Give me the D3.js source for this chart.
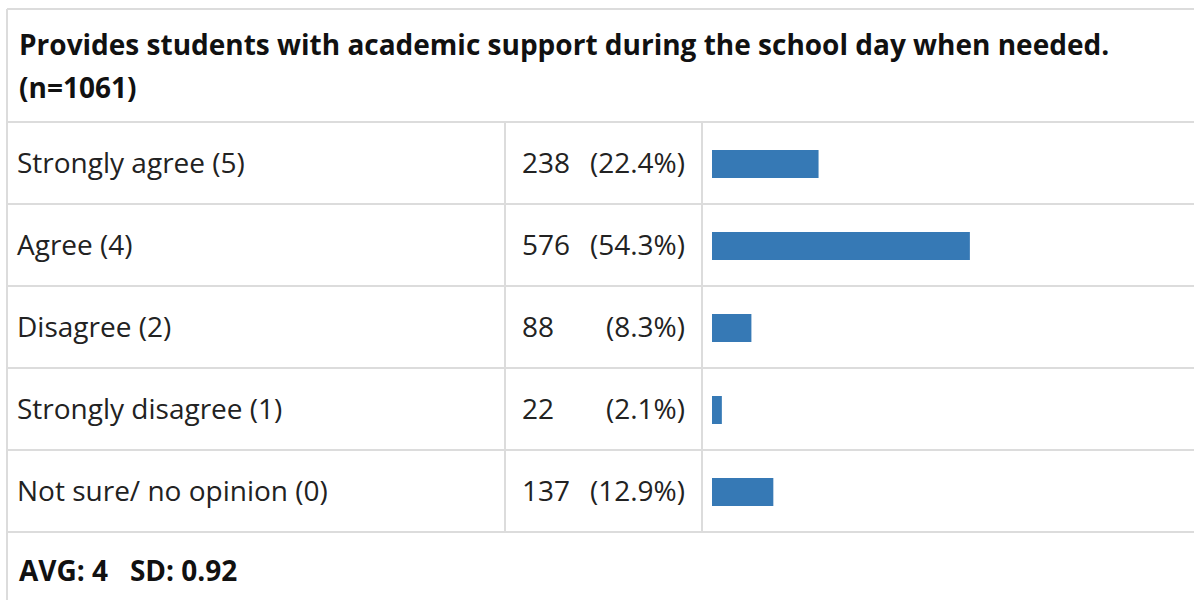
<!DOCTYPE html>
<html>
<head>
<meta charset="utf-8">
<script src="https://cdn.jsdelivr.net/npm/d3@7"></script>
<style>
  body { margin: 0; background: #fff; }
  svg { display: block; font-family: "Open Sans", sans-serif; }
</style>
</head>
<body>
<svg width="1194" height="600"></svg>
<script>
// survey answers, top to bottom
const labels = ["Strongly agree (5)", "Agree (4)", "Disagree (2)", "Strongly disagree (1)", "Not sure/ no opinion (0)"];
const counts = [238, 576, 88, 22, 137];
const percents = ["(22.4%)", "(54.3%)", "(8.3%)", "(2.1%)", "(12.9%)"];
const titleLines = ["Provides students with academic support during the school day when needed.", "(n=1061)"];
const total = 1061;
const footer = "AVG: 4   SD: 0.92";

const svg = d3.select("svg");
const grid = "#dcdcdc";
const fs = 28;

const tblLeft = 7, tblTop = 9, tblRight = 1200,
    headH = 113, rowH = 82;
const col1 = 505, col2 = 702;

// row positions
const y = d3.scaleBand()
    .domain(d3.range(labels.length))
    .range([tblTop + headH, tblTop + headH + rowH * labels.length]);

// bar length scale (n as full width)
const x = d3.scaleLinear().domain([0, total]).range([0, 475]);

const rowsBottom = y.range()[1];

// grid lines
const g = svg.append("g").attr("stroke", grid).attr("stroke-width", 2);
g.append("line").attr("x1", tblLeft).attr("x2", tblRight).attr("y1", tblTop).attr("y2", tblTop);
g.append("line").attr("x1", tblLeft).attr("x2", tblLeft).attr("y1", tblTop).attr("y2", 600);
g.selectAll(".hline")
    .data(d3.range(labels.length + 1))
    .join("line")
    .attr("x1", tblLeft).attr("x2", tblRight)
    .attr("y1", d => tblTop + headH + d * rowH)
    .attr("y2", d => tblTop + headH + d * rowH);
[col1, col2].forEach(cx => {
    g.append("line").attr("x1", cx).attr("x2", cx)
        .attr("y1", tblTop + headH).attr("y2", rowsBottom);
});

// title
svg.append("text")
    .attr("font-weight", "bold")
    .attr("font-size", fs)
    .attr("fill", "#111")
    .selectAll("tspan")
    .data(titleLines)
    .join("tspan")
    .attr("x", 19)
    .attr("y", (d, i) => 55 + i * 43)
    .text(d => d);

const rows = svg.selectAll(".row")
    .data(labels)
    .join("g")
    .attr("class", "row")
    .attr("transform", (d, i) => "translate(0," + y(i) + ")");

rows.append("text")
    .attr("x", 17)
    .attr("y", rowH / 2 + 10)
    .attr("font-size", fs)
    .attr("fill", "#222")
    .text(d => d);

rows.append("text")
    .attr("x", 522)
    .attr("y", rowH / 2 + 10)
    .attr("font-size", fs)
    .attr("fill", "#222")
    .text((d, i) => counts[i]);

rows.append("text")
    .attr("x", 685)
    .attr("y", rowH / 2 + 10)
    .attr("text-anchor", "end")
    .attr("font-size", fs)
    .attr("fill", "#222")
    .text((d, i) => percents[i]);

rows.append("rect")
    .attr("x", 712)
    .attr("y", rowH / 2 - 13)
    .attr("height", 28)
    .attr("width", (d, i) => x(counts[i]))
    .attr("fill", "#3679b5");

// footer
svg.append("text")
    .attr("x", 19)
    .attr("y", rowsBottom + 49)
    .attr("font-weight", "bold")
    .attr("font-size", fs)
    .attr("fill", "#111")
    .attr("xml:space", "preserve")
    .style("white-space", "pre")
    .text(footer);
</script>
</body>
</html>
